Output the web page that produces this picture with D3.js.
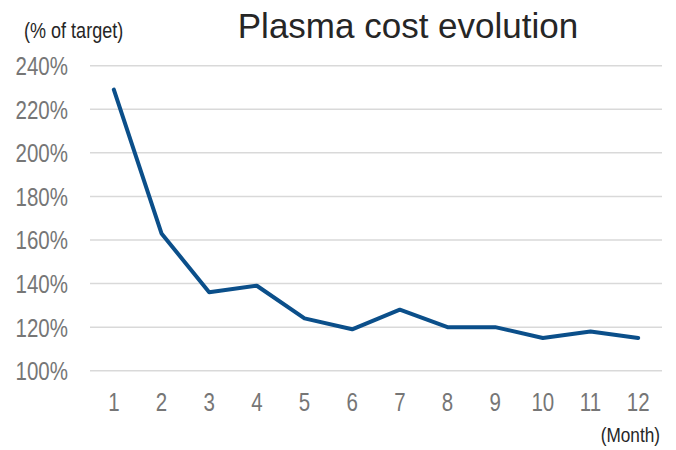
<!DOCTYPE html>
<html>
<head>
<meta charset="utf-8">
<script src="https://cdn.jsdelivr.net/npm/d3@7"></script>
<style>
  html, body { margin: 0; padding: 0; background: #fff; }
  svg { display: block; }
  text { font-family: "Liberation Sans", Arial, sans-serif; }
</style>
</head>
<body>
<svg id="chart" width="676" height="450"></svg>
<script>
// Monthly plasma cost, as a percentage of target
const months = ["1", "2", "3", "4", "5", "6", "7", "8", "9", "10", "11", "12"];
const costPct = [229, 163, 136, 139, 124, 119, 128, 120, 120, 115, 118, 115];
const yTicks = [100, 120, 140, 160, 180, 200, 220, 240];

const svg = d3.select("#chart");
const plot = { left: 90, right: 662, top: 65.7, bottom: 370.7 };
const narrow = 0.82; // horizontal squeeze for the condensed label face

const x = d3.scaleBand().domain(months).range([plot.left, plot.right]).padding(0);
const y = d3.scaleLinear().domain([100, 240]).range([plot.bottom, plot.top]);

// Horizontal gridlines
svg.append("g").selectAll("line").data(yTicks).join("line")
  .attr("x1", plot.left).attr("x2", plot.right)
  .attr("y1", d => y(d)).attr("y2", d => y(d))
  .attr("stroke", "#d9d9d9").attr("stroke-width", 1.5);

// Y axis labels
const yAxis = d3.axisLeft(y).tickValues(yTicks).tickFormat(d => d + "%").tickSize(0).tickPadding(0);
const gy = svg.append("g").attr("transform", "translate(68,0)").call(yAxis)
  .attr("font-family", null);
gy.select(".domain").remove();
gy.selectAll("text")
  .attr("font-size", 25).attr("fill", "#767676")
  .attr("dy", "0.36em")
  .attr("transform", `scale(${narrow},1)`);

// X axis labels
const xAxis = d3.axisBottom(x).tickSize(0).tickPadding(0);
const gx = svg.append("g").attr("transform", "translate(0,393)").call(xAxis)
  .attr("font-family", null);
gx.select(".domain").remove();
gx.selectAll("text")
  .attr("font-size", 25).attr("fill", "#767676")
  .attr("dy", "0.71em")
  .attr("transform", `scale(${narrow},1)`);

// Cost line
const line = d3.line()
  .x((d, i) => x(months[i]) + x.bandwidth() / 2)
  .y(d => y(d));
svg.append("path").datum(costPct)
  .attr("d", line)
  .attr("fill", "none")
  .attr("stroke", "#0b4f8a")
  .attr("stroke-width", 4)
  .attr("stroke-linejoin", "round")
  .attr("stroke-linecap", "round");

// Title
svg.append("text")
  .attr("x", 408).attr("y", 38)
  .attr("text-anchor", "middle")
  .attr("font-size", 35).attr("fill", "#262626")
  .text("Plasma cost evolution");

// Unit labels
svg.append("text")
  .attr("transform", `translate(24,37.5) scale(${narrow},1)`)
  .attr("font-size", 22).attr("fill", "#262626")
  .text("(% of target)");

svg.append("text")
  .attr("transform", `translate(660,442) scale(${narrow},1)`)
  .attr("text-anchor", "end")
  .attr("font-size", 21).attr("fill", "#262626")
  .text("(Month)");
</script>
</body>
</html>
